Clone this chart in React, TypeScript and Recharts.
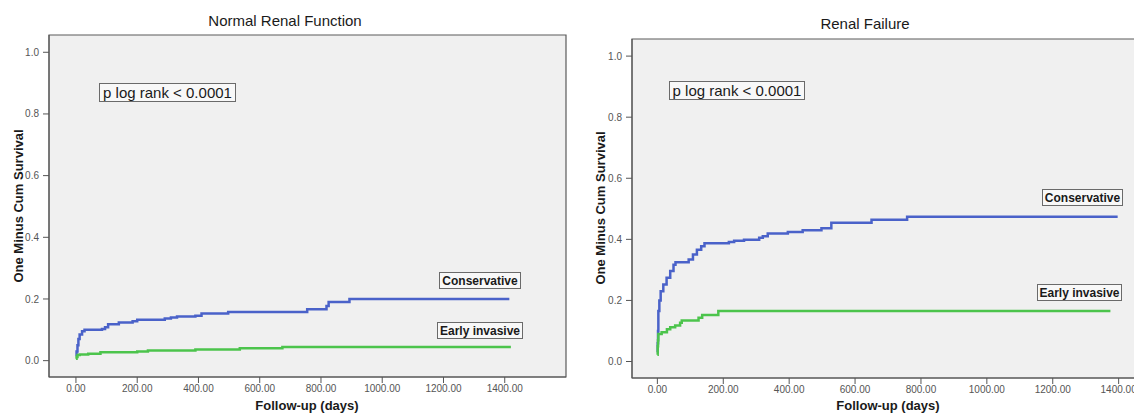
import React from 'react';
import { LineChart, Line, XAxis, YAxis, CartesianGrid, ReferenceArea } from 'recharts';

// ---- Data ----
const normalConservativeDays = [0, 2, 5, 8, 12, 20, 28, 85, 95, 105, 140, 185, 200, 290, 310, 330, 390, 410, 497, 755, 818, 825, 893, 1415];
const normalConservativeRisk = [0.015, 0.03, 0.05, 0.07, 0.085, 0.095, 0.1, 0.103, 0.108, 0.118, 0.124, 0.128, 0.133, 0.137, 0.14, 0.143, 0.146, 0.153, 0.158, 0.167, 0.177, 0.19, 0.2, 0.2];

const normalEarlyDays = [0, 2, 5, 12, 40, 80, 200, 235, 390, 535, 674, 1420];
const normalEarlyRisk = [0.006, 0.012, 0.018, 0.02, 0.022, 0.027, 0.03, 0.033, 0.036, 0.04, 0.044, 0.044];

const failureConservativeDays = [0, 1, 2, 3, 6, 10, 18, 28, 39, 49, 55, 95, 108, 120, 133, 143, 217, 233, 263, 309, 320, 335, 396, 441, 498, 528, 650, 758, 1397];
const failureConservativeRisk = [0.03, 0.06, 0.1, 0.165, 0.2, 0.23, 0.252, 0.274, 0.296, 0.317, 0.325, 0.334, 0.35, 0.366, 0.377, 0.387, 0.391, 0.395, 0.399, 0.405, 0.41, 0.419, 0.424, 0.43, 0.436, 0.454, 0.464, 0.474, 0.474];

const failureEarlyDays = [0, 1, 2, 3, 13, 29, 39, 54, 69, 74, 125, 136, 185, 1375];
const failureEarlyRisk = [0.022, 0.05, 0.07, 0.09, 0.096, 0.106, 0.112, 0.118, 0.127, 0.134, 0.143, 0.152, 0.165, 0.165];

const xTicks = [0, 200, 400, 600, 800, 1000, 1200, 1400];
const yTicks = [0, 0.2, 0.4, 0.6, 0.8, 1.0];

const panelTitles = ['Normal Renal Function', 'Renal Failure'];
const seriesNames = ['Conservative', 'Early invasive'];
const pText = 'p log rank < 0.0001';
const yLabel = 'One Minus Cum Survival';
const xLabel = 'Follow-up (days)';

const toPoints = (days: number[], vals: number[]) => days.map((d, i) => ({ day: d, value: vals[i] }));

const BLUE = '#4a62c9';
const GREEN = '#4cc44c';
const FONT = '"Liberation Sans", Arial, sans-serif';

type PanelProps = {
  left: number;
  width: number;
  margin: { top: number; right: number; bottom: number; left: number };
  xDomain: [number, number];
  yDomain: [number, number];
  cons: { day: number; value: number }[];
  early: { day: number; value: number }[];
};

const Panel = ({ left, width, margin, xDomain, yDomain, cons, early }: PanelProps) => (
  <div style={{ position: 'absolute', left, top: 0 }}>
    <LineChart width={width} height={413} margin={margin}>
      <CartesianGrid horizontal={false} vertical={false} fill="#f0f0f0" />
      <XAxis
        type="number"
        dataKey="day"
        domain={xDomain}
        allowDataOverflow
        ticks={xTicks}
        tickFormatter={(v: number) => v.toFixed(2)}
        tick={{ fontSize: 10, fill: '#555', fontFamily: FONT }}
        tickSize={6}
        tickMargin={2}
        height={30}
        stroke="#555"
        interval={0}
      />
      <YAxis
        type="number"
        dataKey="value"
        domain={yDomain}
        allowDataOverflow
        ticks={yTicks}
        tickFormatter={(v: number) => v.toFixed(1)}
        tick={{ fontSize: 10, fill: '#555', fontFamily: FONT }}
        tickSize={6}
        tickMargin={4}
        width={40}
        stroke="#555"
        interval={0}
      />
      <ReferenceArea
        x1={xDomain[0]}
        x2={xDomain[1]}
        y1={yDomain[0]}
        y2={yDomain[1]}
        fill="none"
        stroke="#5a5a5a"
        strokeWidth={1.2}
        ifOverflow="visible"
      />
      <Line data={cons} dataKey="value" type="stepAfter" stroke={BLUE} strokeWidth={2.5} dot={false} isAnimationActive={false} />
      <Line data={early} dataKey="value" type="stepAfter" stroke={GREEN} strokeWidth={2.5} dot={false} isAnimationActive={false} />
    </LineChart>
  </div>
);

const CText = ({ cx, cy, text, size, bold, rotate }: { cx: number; cy: number; text: string; size: number; bold?: boolean; rotate?: boolean }) => (
  <div
    style={{
      position: 'absolute',
      left: cx,
      top: cy,
      transform: `translate(-50%, -50%)${rotate ? ' rotate(-90deg)' : ''}`,
      whiteSpace: 'nowrap',
      fontFamily: FONT,
      fontSize: size,
      fontWeight: bold ? 'bold' : 'normal',
      color: '#1a1a1a',
      lineHeight: 1,
    }}
  >
    {text}
  </div>
);

const BoxText = ({ left, top, w, h, text, size, bold }: { left: number; top: number; w: number; h: number; text: string; size: number; bold?: boolean }) => (
  <div
    style={{
      position: 'absolute',
      left,
      top,
      width: w,
      height: h,
      boxSizing: 'border-box',
      border: '1px solid #6a6a6a',
      background: '#f8f8f8',
      display: 'flex',
      alignItems: 'center',
      justifyContent: 'center',
      fontFamily: FONT,
      fontSize: size,
      fontWeight: bold ? 'bold' : 'normal',
      color: '#1a1a1a',
      whiteSpace: 'nowrap',
      lineHeight: 1,
    }}
  >
    {text}
  </div>
);

export default function App() {
  return (
    <div style={{ position: 'absolute', left: 0, top: 0, width: 1134, height: 413, overflow: 'hidden', background: '#fff' }}>
      <Panel
        left={0}
        width={580}
        margin={{ top: 35, right: 14, bottom: 6, left: 9 }}
        xDomain={[-88, 1600]}
        yDomain={[-0.053, 1.056]}
        cons={toPoints(normalConservativeDays, normalConservativeRisk)}
        early={toPoints(normalEarlyDays, normalEarlyRisk)}
      />
      <Panel
        left={590}
        width={570}
        margin={{ top: 39, right: 15, bottom: 5, left: 2 }}
        xDomain={[-77, 1480]}
        yDomain={[-0.054, 1.056]}
        cons={toPoints(failureConservativeDays, failureConservativeRisk)}
        early={toPoints(failureEarlyDays, failureEarlyRisk)}
      />

      <CText cx={285} cy={20} text={panelTitles[0]} size={15} />
      <CText cx={865} cy={23} text={panelTitles[1]} size={15} />
      <CText cx={18} cy={206} text={yLabel} size={13} bold rotate />
      <CText cx={600} cy={208} text={yLabel} size={13} bold rotate />
      <CText cx={307} cy={405} text={xLabel} size={13} bold />
      <CText cx={888} cy={405} text={xLabel} size={13} bold />

      <BoxText left={99} top={83} w={137} h={19} text={pText} size={15} />
      <BoxText left={669} top={81} w={136} h={19} text={pText} size={15} />

      <BoxText left={439} top={272} w={82} h={17} text={seriesNames[0]} size={12} bold />
      <BoxText left={437} top={322} w={86} h={17} text={seriesNames[1]} size={12} bold />
      <BoxText left={1042} top={189} w={81} h={17} text={seriesNames[0]} size={12} bold />
      <BoxText left={1037} top={284} w={85} h={17} text={seriesNames[1]} size={12} bold />
    </div>
  );
}
